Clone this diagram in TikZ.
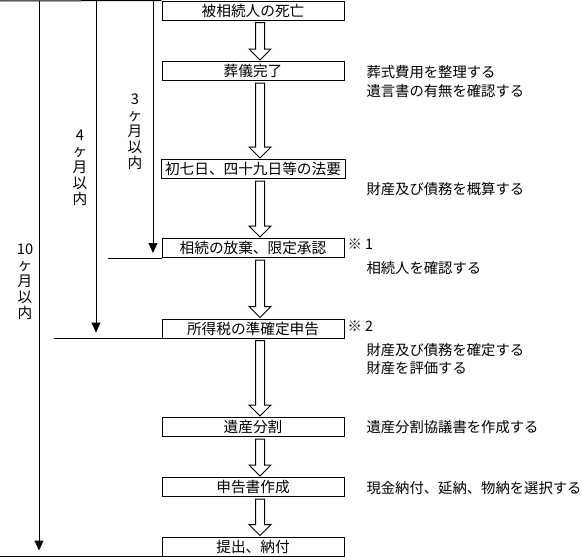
\documentclass[tikz,border=0pt]{standalone}
\usepackage{fontspec}
\newfontfamily\jp{Noto Sans CJK JP}
\usetikzlibrary{arrows.meta,calc}
\begin{document}
\begin{tikzpicture}[x=0.75pt,y=-0.75pt,
  font=\jp\fontsize{11}{12}\selectfont,
  every path/.style={line width=0.75pt},
  stepbox/.style={draw, line width=0.75pt, minimum width=136.5pt, minimum height=14.25pt, inner sep=0pt},
  note/.style={anchor=west, inner sep=0pt, font=\jp\fontsize{10.75}{12}\selectfont},
  period/.style={align=center, inner sep=0pt, font=\jp\fontsize{11}{12}\selectfont},
  timeline/.style={-{Triangle[width=6.75pt,length=7.5pt]}},
  blockarrow/.style={draw, fill=white, line width=0.75pt}]
\useasboundingbox (0,0) rectangle (583,557);
% boxes
\node[stepbox] (b1) at (253,10.5) {被相続人の死亡};
\node[stepbox] (b2) at (253,71) {葬儀完了};
\node[stepbox, minimum width=138pt] (b3) at (253,169) {初七日、四十九日等の法要};
\node[stepbox] (b4) at (253,248) {相続の放棄、限定承認};
\node[stepbox] (b5) at (253,328.5) {所得税の準確定申告};
\node[stepbox] (b6) at (253,427) {遺産分割};
\node[stepbox] (b7) at (253,487) {申告書作成};
\node[stepbox] (b8) at (253,546.5) {提出、納付};
% block arrows
\coordinate (ax) at (260,0);
\newcommand\blkarrow[2]{%
  \path[blockarrow]
    ($(#1.south -| ax)+(-4.5,2)$) -- ($(#2.north -| ax)+(-4.5,-12)$)
    -- ($(#2.north -| ax)+(-11,-12)$) -- ($(#2.north -| ax)+(0,-1)$)
    -- ($(#2.north -| ax)+(11,-12)$) -- ($(#2.north -| ax)+(4.5,-12)$)
    -- ($(#1.south -| ax)+(4.5,2)$) -- cycle;}
\blkarrow{b1}{b2}
\blkarrow{b2}{b3}
\blkarrow{b3}{b4}
\blkarrow{b4}{b5}
\blkarrow{b5}{b6}
\blkarrow{b6}{b7}
\blkarrow{b7}{b8}
% timeline
\coordinate (t0) at (0,1);
\coordinate (s10) at (39,1);
\coordinate (s4) at (96,1);
\coordinate (s3) at (153,1);
\draw (t0) -- (b1.north west);
\draw[timeline] (s3) -- ($(b4.south -| s3)+(0,-5)$);
\draw[timeline] (s4) -- ($(b5.south -| s4)+(0,-6)$);
\draw[timeline] (s10) -- ($(b8.south -| s10)+(0,-6)$);
\coordinate (h3) at ($(b4.south west)+(-54,0)$);
\coordinate (h4) at ($(b5.south west)+(-108,0)$);
\coordinate (h10) at ($(b8.south west -| t0)$);
\draw (h3) -- (b4.south west);
\draw (h4) -- (b5.south west);
\draw (h10) -- (b8.south west);
% period labels
\node[period] (p3) at (135,132) {3\\ヶ\\月\\以\\内};
\node[period] (p4) at (80,168) {4\\ヶ\\月\\以\\内};
\node[period] (p10) at (25,282) {10\\ヶ\\月\\以\\内};
% notes
\node[note] (n1) at (366,72) {葬式費用を整理する};
\node[note] (n2) at (366,91) {遺言書の有無を確認する};
\node[note] (n3) at (366,189) {財産及び債務を概算する};
\node[note] (m1) at (347,244) {※ 1};
\node[note] (n4) at (366,268) {相続人を確認する};
\node[note] (m2) at (347,326) {※ 2};
\node[note] (n5) at (366,350) {財産及び債務を確定する};
\node[note] (n6) at (366,368) {財産を評価する};
\node[note] (n7) at (366,427) {遺産分割協議書を作成する};
\node[note] (n8) at (366,488) {現金納付、延納、物納を選択する};
\end{tikzpicture}
\end{document}
